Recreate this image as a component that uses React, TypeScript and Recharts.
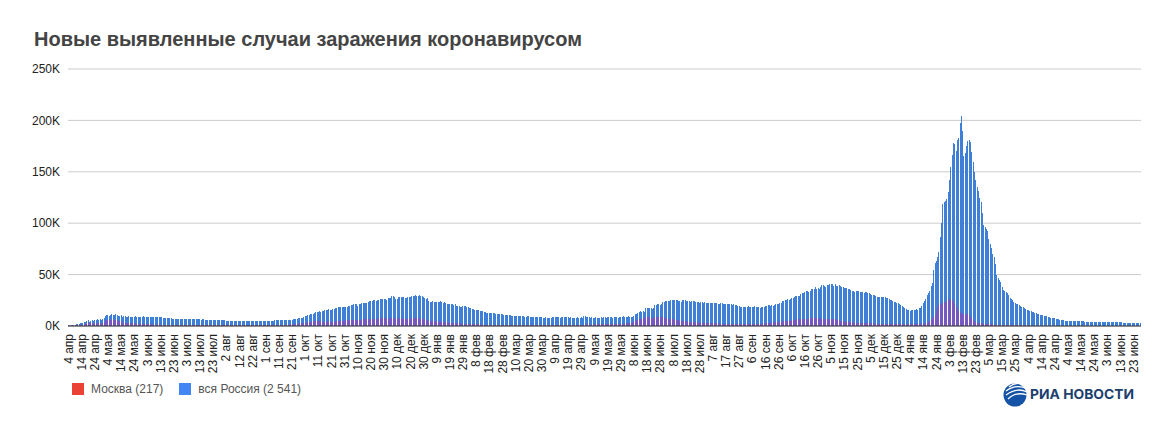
import { BarChart, Bar, XAxis, YAxis, CartesianGrid, Legend } from 'recharts';

const FONT = '"Liberation Sans", Arial, sans-serif';

const tickLabels = [
  '4 апр', '14 апр', '24 апр', '4 мая', '14 мая', '24 мая', '3 июн', '13 июн', '23 июн', '3 июл', '13 июл', '23 июл',
  '2 авг', '12 авг', '22 авг', '1 сен', '11 сен', '21 сен', '1 окт', '11 окт', '21 окт', '31 окт', '10 ноя', '20 ноя',
  '30 ноя', '10 дек', '20 дек', '30 дек', '9 янв', '19 янв', '29 янв', '8 фев', '18 фев', '28 фев', '10 мар', '20 мар',
  '30 мар', '9 апр', '19 апр', '29 апр', '9 мая', '19 мая', '29 мая', '8 июн', '18 июн', '28 июн', '8 июл', '18 июл',
  '28 июл', '7 авг', '17 авг', '27 авг', '6 сен', '16 сен', '26 сен', '6 окт', '16 окт', '26 окт', '5 ноя', '15 ноя',
  '25 ноя', '5 дек', '15 дек', '25 дек', '4 янв', '14 янв', '24 янв', '3 фев', '13 фев', '23 фев', '5 мар', '15 мар',
  '25 мар', '4 апр', '14 апр', '24 апр', '4 мая', '14 мая', '24 мая', '3 июн', '13 июн', '23 июн',
];

const yTicks = [0, 50000, 100000, 150000, 200000, 250000];

// one row per ten days, same order as tickLabels
const russia = [
  601, 658, 954, 1175, 1154, 1459, 1786, 1667, 2186, 2558,
  2774, 3388, 3448, 4070, 4785, 6060, 4268, 5236, 5642, 4774,
  5849, 5966, 6361, 6198, 6411, 5841, 7099, 7933, 9623, 10633,
  10581, 10102, 10559, 11231, 11012, 10699, 11656, 10899, 10028, 9974,
  10598, 9200, 9709, 9263, 8926, 8764, 9263, 8894, 8849, 8599,
  8599, 9434, 8915, 8338, 8371, 8572, 9035, 9268, 9035, 8863,
  8536, 8726, 8855, 8984, 8985, 8595, 8404, 8779, 8858, 8404,
  8706, 8835, 8248, 8246, 7972, 7790, 7843, 7600, 7425, 7113,
  7176, 6800, 6719, 6852, 6791, 6693, 6719, 6693, 6556, 6760,
  6718, 6736, 6611, 6611, 6368, 6562, 6509, 6635, 6611, 6537,
  6537, 6248, 6422, 6428, 6234, 6109, 6094, 5940, 5862, 5842,
  5811, 5871, 5765, 5635, 5395, 5475, 5509, 5482, 5462, 5427,
  5159, 5204, 5267, 5241, 5118, 5212, 5189, 5102, 5065, 5010,
  4945, 4892, 4870, 4852, 4828, 4839, 4785, 4744, 4748, 4711,
  4696, 4676, 4729, 4744, 4711, 4829, 4921, 4952, 4980, 4993,
  5015, 5099, 5110, 5185, 5205, 5195, 5218, 5413, 5488, 5509,
  5406, 5449, 5509, 5529, 5670, 5905, 5905, 6065, 6148, 6196,
  6215, 6431, 6595, 6611, 7212, 7523, 7867, 8135, 8232, 8481,
  9412, 9859, 10499, 10888, 11615, 11493, 12126, 12846, 13592, 13634,
  13868, 14231, 13868, 14321, 14922, 15150, 15700, 15971, 16319, 15982,
  15700, 16521, 16710, 17347, 17717, 18283, 18140, 18648, 18665, 18140,
  18283, 18665, 18648, 19404, 19768, 20582, 20498, 20977, 21608, 20977,
  19851, 20977, 21608, 21983, 22410, 22572, 22778, 22702, 23610, 24318,
  24326, 24581, 24822, 25173, 24581, 25345, 25487, 26338, 26509, 26683,
  26338, 26509, 25345, 27100, 27403, 27665, 28782, 29039, 28145, 26097,
  26190, 27787, 28585, 28214, 28137, 27927, 27328, 27039, 28080, 28209,
  28552, 29350, 29258, 28776, 29935, 29018, 29499, 29935, 29350, 28776,
  27787, 27039, 26513, 27039, 24150, 23351, 23652, 24246, 23309, 22934,
  23309, 22934, 23351, 24092, 23652, 22851, 22934, 22702, 21734, 21127,
  21734, 21152, 21127, 20598, 20921, 19290, 19238, 19138, 18648, 18241,
  19290, 19238, 19138, 18359, 18241, 17648, 17164, 16688, 16714, 15916,
  15916, 15861, 15165, 14928, 14494, 14185, 13433, 13233, 12953, 12604,
  12742, 12604, 12828, 12742, 12604, 11749, 11534, 11629, 11571, 11198,
  11198, 11024, 10565, 10535, 10595, 10408, 10253, 10057, 10025, 9934,
  9815, 9437, 9557, 9908, 9445, 9393, 9288, 9215, 9215, 9474,
  9299, 9195, 9088, 8769, 8704, 9128, 9167, 9073, 8711, 8838,
  8328, 8162, 8156, 8294, 8053, 8187, 8203, 8173, 8328, 8704,
  8702, 8813, 8589, 8271, 8173, 8328, 8704, 8702, 8813, 8589,
  8271, 8053, 8294, 8053, 8187, 8203, 8173, 8328, 8162, 8156,
  8271, 8053, 9270, 9328, 8589, 8702, 8813, 7770, 8280, 8217,
  8173, 8328, 8053, 8162, 8187, 8326, 8217, 8554, 8790, 8173,
  8271, 8702, 8813, 8951, 8217, 8554, 8790, 8947, 8217, 8554,
  8554, 8947, 9252, 8863, 9145, 8947, 9367, 8951, 8790, 9145,
  9701, 11198, 11699, 12505, 13510, 14185, 13397, 14723, 13721, 17262,
  17611, 17906, 17378, 17594, 16715, 17378, 20182, 20393, 21042, 21665,
  20538, 21042, 23543, 23218, 23962, 24353, 24439, 24702, 24818, 25142,
  25116, 25766, 25704, 25033, 24702, 24471, 23827, 25704, 25116, 25033,
  24471, 24633, 23962, 23827, 24439, 24072, 23947, 23770, 23564, 23270,
  22804, 23564, 23270, 22804, 23270, 22589, 22420, 22589, 22420, 22804,
  22660, 22498, 22144, 21932, 21571, 21378, 22144, 21932, 21571, 21058,
  20992, 20958, 21058, 20992, 20958, 20564, 21000, 20765, 20185, 19630,
  19706, 18780, 18924, 18891, 18325, 18645, 18780, 18985, 18891, 18103,
  18063, 18780, 18985, 18924, 18325, 18645, 17837, 18063, 18325, 18841,
  19594, 19706, 20329, 20174, 19905, 20174, 19905, 20329, 21438, 20959,
  21559, 22236, 22236, 23888, 24522, 25110, 25769, 25781, 25133, 26392,
  27246, 27550, 28190, 29362, 29409, 28717, 29409, 31299, 31792, 32196,
  33208, 34325, 33740, 33208, 34073, 36339, 36446, 35660, 37678, 35660,
  36582, 36446, 37678, 39849, 40096, 39008, 38058, 39849, 40096, 41335,
  40993, 40735, 39160, 40759, 38823, 39160, 39508, 38823, 38420, 38058,
  37156, 36626, 36582, 36339, 35681, 34787, 34325, 33996, 33558, 33860,
  33996, 33860, 33208, 32930, 32602, 32136, 32930, 32602, 32136, 32136,
  31096, 30288, 30288, 29929, 29558, 28486, 28363, 28190, 28190, 27967,
  27967, 27743, 27403, 26822, 26599, 25667, 25130, 24703, 23826, 23210,
  22550, 21922, 21073, 20174, 19375, 18659, 17525, 16300, 15830, 15400,
  15000, 15500, 15830, 15500, 16000, 16300, 15830, 17525, 17900, 19500,
  22000, 24000, 26500, 30000, 32000, 33900, 38800, 42000, 54000, 61000,
  63500, 67000, 72000, 87000, 100000, 119000, 121000, 122000, 124000, 130000,
  142000, 155000, 166000, 178000, 177000, 170000, 181000, 183000, 197000, 203900,
  190000, 165000, 168000, 175000, 180000, 180500, 179000, 169000, 160000, 150000,
  142000, 135000, 131000, 125000, 121000, 110000, 98000, 96000, 94000, 92000,
  85000, 80000, 76000, 70000, 67000, 60000, 50000, 47000, 45000, 43000,
  38000, 35000, 34000, 33000, 32000, 30000, 27000, 26000, 25000, 23600,
  22500, 21500, 21000, 20000, 19500, 18800, 18800, 17500, 16500, 16000,
  15500, 15000, 14500, 14000, 13500, 12800, 12300, 11800, 11200, 10900,
  10800, 10400, 10000, 9700, 9300, 8900, 8400, 8200, 7900, 7600,
  7300, 7000, 6700, 6400, 6100, 5900, 5700, 5500, 5300, 5100,
  5000, 5000, 4900, 4800, 4700, 4700, 4600, 4600, 4500, 4500,
  4400, 4500, 4400, 4300, 4300, 4300, 4200, 4200, 4100, 4100,
  4100, 4000, 4000, 3900, 3900, 3900, 3800, 3800, 3800, 3700,
  3800, 3700, 3700, 3700, 3600, 3600, 3600, 3600, 3500, 3500,
  3500, 3500, 3400, 3400, 3400, 3300, 3300, 3300, 3300, 3200,
  3200, 3200, 3300, 3300, 3400, 2541,
];

const moscow = [
  434, 267, 591, 697, 660, 857, 1124, 1030, 1306, 1355,
  1489, 1370, 1774, 1959, 2649, 3570, 2512, 2548, 2957, 1958,
  2786, 2971, 3083, 2972, 3075, 2220, 3093, 3561, 5358, 5795,
  5948, 5858, 6703, 5846, 5667, 5551, 6074, 5392, 4835, 4703,
  4555, 3505, 3238, 3343, 3075, 2699, 2840, 2913, 2688, 2516,
  2237, 2830, 2367, 2254, 2140, 2332, 2595, 2297, 1995, 1842,
  1992, 1855, 1955, 1572, 1618, 1195, 1145, 1195, 1572, 1477,
  1000, 985, 1000, 1072, 1019, 1012, 1057, 1031, 1000, 1014,
  985, 947, 908, 862, 755, 692, 649, 669, 676, 730,
  735, 697, 659, 645, 685, 677, 666, 654, 651, 620,
  655, 621, 603, 599, 611, 630, 635, 650, 660, 680,
  692, 673, 661, 640, 630, 618, 611, 602, 599, 595,
  651, 655, 660, 668, 682, 675, 665, 660, 650, 645,
  640, 634, 628, 622, 618, 610, 605, 602, 596, 599,
  640, 651, 664, 675, 680, 685, 690, 691, 694, 695,
  685, 690, 698, 700, 716, 728, 730, 735, 751, 760,
  760, 780, 790, 800, 1000, 1050, 1120, 1170, 1300, 1500,
  1700, 1800, 1800, 2000, 2200, 2300, 2500, 2800, 3000, 3300,
  3400, 3500, 3800, 4000, 4100, 4300, 4500, 4500, 4600, 4500,
  4600, 4500, 4400, 4200, 4100, 4100, 4300, 4500, 4500, 4300,
  4000, 4100, 4200, 4500, 4700, 4600, 4800, 4900, 5000, 5200,
  5200, 5400, 5500, 5600, 5800, 5900, 6100, 6300, 6200, 6000,
  5600, 5900, 6100, 6300, 6400, 6500, 6500, 6600, 6700, 6900,
  6900, 7000, 7100, 7200, 7100, 7200, 7300, 7600, 7700, 7900,
  7500, 7300, 7100, 7200, 7400, 7700, 8000, 8200, 8000, 7000,
  7000, 7300, 7500, 7300, 7400, 7200, 7000, 6800, 7100, 7200,
  7300, 7700, 7500, 7300, 7900, 7600, 7500, 7300, 7000, 6800,
  6600, 6400, 6100, 6000, 5200, 5000, 4900, 5000, 4800, 4500,
  4400, 4300, 4300, 4500, 4300, 4100, 4000, 3900, 3500, 3400,
  3500, 3300, 3200, 3100, 3000, 2900, 2700, 2600, 2500, 2400,
  2300, 2300, 2200, 2200, 2100, 2000, 1900, 1800, 1800, 1700,
  1700, 1600, 1500, 1500, 1400, 1400, 1300, 1300, 1300, 1200,
  1300, 1300, 1300, 1300, 1300, 1200, 1200, 1200, 1200, 1200,
  1200, 1200, 1100, 1100, 1100, 1100, 1200, 1100, 1100, 1100,
  1100, 1100, 1100, 1000, 1000, 1000, 1000, 1100, 1100, 1100,
  1100, 1100, 1100, 1000, 1000, 1100, 1200, 1200, 1200, 1100,
  1100, 1100, 1100, 1100, 1100, 1200, 1200, 1200, 1200, 1300,
  1300, 1300, 1300, 1200, 1200, 1200, 1200, 1300, 1300, 1300,
  1300, 1200, 1300, 1300, 1300, 1300, 1300, 1400, 1400, 1400,
  1300, 1300, 1400, 1400, 1500, 1500, 1500, 1400, 1400, 1400,
  1500, 1500, 1500, 1500, 1500, 1500, 1500, 1500, 1600, 1500,
  1600, 1600, 1600, 1800, 1800, 1900, 1900, 2000, 2200, 2000,
  2000, 2100, 2200, 2300, 2800, 2900, 3000, 3000, 3200, 3500,
  3700, 4700, 5500, 6000, 6700, 6600, 6700, 7500, 7700, 8400,
  9000, 9100, 8600, 7900, 7700, 8000, 8300, 8500, 8900, 8800,
  8600, 8500, 8500, 7800, 7500, 7500, 7200, 7100, 7000, 6900,
  6500, 6000, 5800, 5700, 5500, 5000, 4800, 4700, 4600, 4500,
  4400, 4300, 4200, 4100, 4000, 3900, 3800, 3700, 3500, 3400,
  3400, 3200, 3100, 3000, 2900, 2900, 2800, 2800, 2700, 2600,
  2600, 2600, 2500, 2500, 2500, 2400, 2400, 2300, 2200, 2100,
  2000, 2000, 2000, 1900, 1900, 1800, 1800, 1900, 1800, 1800,
  1700, 1700, 1700, 1600, 1700, 1700, 1800, 1800, 1800, 1800,
  1800, 1900, 2000, 2000, 2000, 2100, 2200, 2300, 2400, 2600,
  2800, 3000, 3000, 3100, 3200, 3300, 3400, 3500, 3600, 3800,
  4000, 4200, 4300, 4500, 4800, 5000, 5000, 5100, 5200, 5200,
  5500, 5800, 6000, 6300, 6600, 6700, 6800, 7000, 7000, 7000,
  7100, 7200, 7200, 7300, 7300, 7400, 7500, 7500, 7500, 7400,
  7200, 7300, 7300, 7100, 7200, 7200, 7000, 7000, 7000, 7000,
  7000, 6900, 6800, 6800, 6600, 6200, 5500, 5200, 5000, 4800,
  4500, 4300, 4000, 3900, 3800, 3600, 3500, 3500, 3300, 3200,
  3100, 3200, 3200, 3100, 3000, 2900, 2900, 2800, 2700, 2700,
  2700, 2600, 2500, 2500, 2400, 2400, 2300, 2300, 2200, 2200,
  2200, 2100, 2000, 2000, 1900, 1900, 1800, 1700, 1700, 1700,
  1700, 1700, 1600, 1600, 1500, 1500, 1500, 1400, 1500, 1600,
  1500, 1600, 1700, 1700, 1800, 1900, 1800, 2000, 2200, 2800,
  1800, 2200, 2600, 3000, 3800, 4800, 6000, 7500, 9000, 11000,
  15000, 18800, 20000, 21000, 22000, 22500, 23000, 23600, 24000, 25000,
  26000, 26000, 25000, 24000, 21000, 19000, 17000, 15000, 14000, 12600,
  12000, 11500, 11000, 12000, 12500, 11000, 8500, 7500, 6000, 5000,
  3500, 3200, 3000, 2800, 2500, 2500, 2300, 2200, 2100, 2000,
  1800, 1700, 1600, 1500, 1400, 1300, 1300, 1200, 1100, 1000,
  950, 900, 880, 850, 800, 780, 750, 720, 700, 680,
  650, 630, 600, 590, 580, 560, 540, 520, 500, 490,
  480, 470, 460, 440, 430, 420, 410, 400, 390, 380,
  370, 360, 350, 340, 340, 330, 320, 310, 300, 300,
  290, 290, 280, 270, 270, 260, 260, 250, 250, 250,
  250, 250, 240, 240, 240, 240, 230, 230, 230, 230,
  235, 230, 228, 222, 225, 220, 224, 219, 221, 226,
  223, 218, 222, 220, 224, 219, 221, 218, 223, 220,
  222, 219, 224, 221, 218, 220, 223, 219, 222, 220,
  221, 218, 220, 223, 219, 222, 220, 218, 221, 219,
  220, 222, 219, 221, 218, 217,
];

const data = russia.map((value, i) => ({ day: i, russia: value, moscow: moscow[i] }));
const tickDays = tickLabels.map((_, i) => i * 10);

function CrispBar({ x, y, width, height, fill, fillOpacity }: any) {
  return <rect x={x} y={y} width={width} height={height} fill={fill} fillOpacity={fillOpacity} shapeRendering="crispEdges" />;
}

function DayTick({ x, y, payload }: any) {
  return (
    <text
      x={x}
      y={y}
      dy={4}
      textAnchor="end"
      transform={`rotate(-90 ${x} ${y})`}
      fontFamily={FONT}
      fontSize={12}
      fill="#222"
    >
      {tickLabels[payload.value / 10]}
    </text>
  );
}

function ChartLegend({ payload }: any) {
  return (
    <div style={{ display: 'flex', fontFamily: FONT, fontSize: 12, color: '#555' }}>
      {[...(payload || [])].sort((a: any) => (a.dataKey === 'moscow' ? -1 : 1)).map((item: any) => (
        <div key={item.dataKey} style={{ display: 'flex', alignItems: 'center', marginRight: 16 }}>
          <span style={{ width: 12, height: 12, background: item.dataKey === 'moscow' ? '#ea4335' : '#4285f4', marginRight: 7 }} />
          <span>{item.value}</span>
        </div>
      ))}
    </div>
  );
}

function Logo() {
  return (
    <svg width={140} height={30} style={{ position: 'absolute', left: 1000, top: 380 }}>
      <circle cx={15} cy={15} r={11.5} fill="#1553a6" />
      <path d="M9 7 C15 2 22 3 27 6 M6 11 C14 5 22 6 27 9 M6 15 C14 9 21 9 27 12 M8 19 C14 13 21 13 27 15" stroke="#fff" strokeWidth={1.3} fill="none" />
      <text x={30} y={19} textLength={104} lengthAdjust="spacingAndGlyphs" fontFamily="Inter, sans-serif" fontWeight={700} fontSize={13.5} fill="#1c3f6e">
        РИА НОВОСТИ
      </text>
    </svg>
  );
}

export default function App() {
  return (
    <div style={{ position: 'absolute', left: 0, top: 0, width: 1176, height: 430, background: '#fff', overflow: 'hidden' }}>
      <div style={{ position: 'absolute', left: 34, top: 28, fontFamily: FONT, fontWeight: 700, fontSize: 20, color: '#444', whiteSpace: 'nowrap' }}>
        Новые выявленные случаи заражения коронавирусом
      </div>
      <BarChart
        width={1176}
        height={430}
        data={data}
        margin={{ top: 69, right: 35, bottom: 30, left: 0 }}
        barSize={1}
        barGap={-1}
      >
        <CartesianGrid vertical={false} stroke="#ccc" />
        <XAxis
          dataKey="day"
          type="category"
          ticks={tickDays}
          interval={0}
          height={60}
          tick={DayTick}
          tickLine={false}
          axisLine={{ stroke: '#333', strokeWidth: 1 }}
        />
        <YAxis
          width={68}
          domain={[0, 250000]}
          ticks={yTicks}
          tickFormatter={(v: number) => `${v / 1000}K`}
          tick={{ fontFamily: FONT, fontSize: 12, fill: '#222' }}
          tickLine={false}
          axisLine={false}
        />
        <Legend
          content={ChartLegend}
          wrapperStyle={{ position: 'absolute', left: 72, top: 382, width: 400 }}
        />
        <Bar dataKey="russia" name="вся Россия (2 541)" fill="#3f7fd8" shape={CrispBar} isAnimationActive={false} />
        {/* red legend swatch, but the overlap reads purple over the blue bars */}
        <Bar dataKey="moscow" name="Москва (217)" fill="#9b3fb0" fillOpacity={0.6} shape={CrispBar} isAnimationActive={false} />
      </BarChart>
      <Logo />
    </div>
  );
}
